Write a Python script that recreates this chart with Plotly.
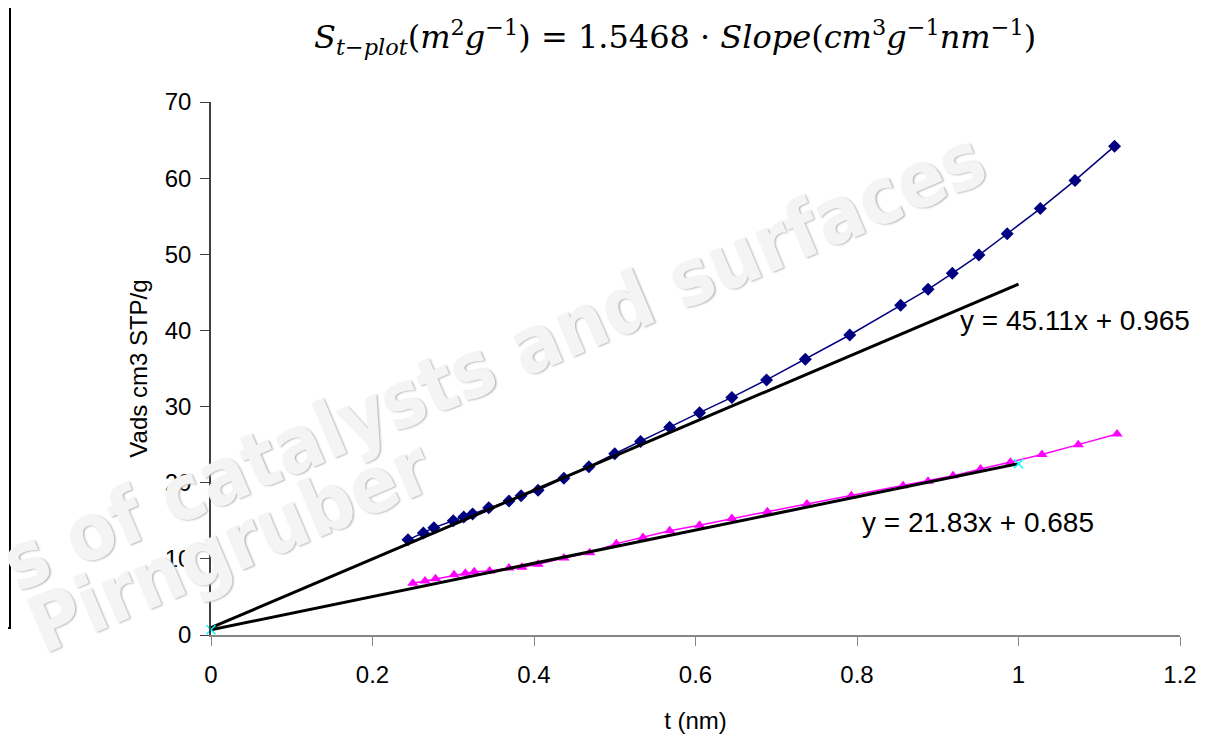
import plotly.graph_objects as go

# ---- data ----
t_blue = [0.244, 0.263, 0.276, 0.300, 0.313, 0.324, 0.344, 0.369, 0.384, 0.405,
          0.437, 0.468, 0.500, 0.532, 0.568, 0.605, 0.645, 0.688, 0.736, 0.791,
          0.854, 0.888, 0.918, 0.951, 0.986, 1.027, 1.070, 1.119]
v_blue = [12.5, 13.4, 14.1, 15.0, 15.5, 15.9, 16.7, 17.6, 18.3, 19.0,
          20.6, 22.1, 23.8, 25.4, 27.3, 29.2, 31.2, 33.5, 36.2, 39.4,
          43.3, 45.4, 47.5, 49.9, 52.7, 56.0, 59.7, 64.2]

t_pink = [0.250, 0.265, 0.278, 0.301, 0.315, 0.326, 0.345, 0.369, 0.385, 0.405,
          0.437, 0.469, 0.502, 0.535, 0.568, 0.605, 0.645, 0.689, 0.738, 0.793,
          0.857, 0.888, 0.919, 0.953, 0.990, 1.029, 1.074, 1.122]
v_pink = [6.8, 7.1, 7.4, 7.9, 8.1, 8.3, 8.4, 8.8, 8.9, 9.3,
          10.1, 10.8, 12.0, 12.8, 13.7, 14.4, 15.3, 16.2, 17.2, 18.3,
          19.6, 20.2, 20.9, 21.8, 22.7, 23.7, 25.0, 26.4]

t_cyan = [0.0, 1.0]
v_cyan = [0.7, 22.5]

trend_t = [0.0, 1.0]
slope1, intercept1 = 45.11, 0.965
slope2, intercept2 = 21.83, 0.685

x_ticks = [0, 0.2, 0.4, 0.6, 0.8, 1.0, 1.2]
x_ticklabels = ["0", "0.2", "0.4", "0.6", "0.8", "1", "1.2"]
y_ticks = [0, 10, 20, 30, 40, 50, 60, 70]

eq1_text = "y = 45.11x + 0.965"
eq2_text = "y = 21.83x + 0.685"
title_html = ("<i>S</i><sub><i>t−plot</i></sub>(<i>m</i><sup>2</sup><i>g</i><sup>−1</sup>)"
              " = 1.5468 · <i>Slope</i>(<i>cm</i><sup>3</sup><i>g</i><sup>−1</sup>"
              "<i>nm</i><sup>−1</sup>)")
wm_line1 = "s of catalysts and surfaces"
wm_line2 = "Pirngruber"

# page is offset by the 8px body margin
OFF = 8
W, H = 1213 - OFF, 737 - OFF
L, R, T, B = 211 - OFF, 33, 102 - OFF, 102
PW, PH = W - L - R, H - T - B


def px(xp):  # page pixel -> paper
    return (xp - OFF - L) / PW


def py(yp):
    return (H - B - (yp - OFF)) / PH


fig = go.Figure()

wm_font = dict(family="DejaVu Sans Condensed, Liberation Sans Narrow, DejaVu Sans, sans-serif",
               size=78, color="#f4f4f4", weight="bold",
               shadow="1px 1px 2px #b4b4b4")

fig.add_trace(go.Scatter(x=t_blue, y=v_blue, mode="lines+markers",
                         line=dict(color="#000080", width=1.5),
                         marker=dict(symbol="diamond", size=10, color="#000080"),
                         showlegend=False, hoverinfo="skip"))
fig.add_trace(go.Scatter(x=t_pink, y=v_pink, mode="lines+markers",
                         line=dict(color="#ff00ff", width=1.5),
                         marker=dict(symbol="triangle-up", size=10, color="#ff00ff"),
                         showlegend=False, hoverinfo="skip"))
fig.add_trace(go.Scatter(x=trend_t, y=[intercept1 + slope1 * t for t in trend_t],
                         mode="lines", line=dict(color="black", width=3),
                         showlegend=False, hoverinfo="skip"))
fig.add_trace(go.Scatter(x=trend_t, y=[intercept2 + slope2 * t for t in trend_t],
                         mode="lines", line=dict(color="black", width=3),
                         showlegend=False, hoverinfo="skip"))
fig.add_trace(go.Scatter(x=t_cyan, y=v_cyan, mode="markers",
                         marker=dict(symbol="x-thin", size=9, color="#00ffff",
                                     line=dict(color="#00ffff", width=1.5)),
                         showlegend=False, hoverinfo="skip", cliponaxis=False))

sans = "Liberation Sans, Arial, sans-serif"
annotations = [
    dict(text=wm_line1, xref="paper", yref="paper", x=px(494), y=py(361),
         showarrow=False, textangle=-23, font=wm_font, xanchor="center", yanchor="middle"),
    dict(text=wm_line2, xref="paper", yref="paper", x=px(230), y=py(546),
         showarrow=False, textangle=-23, font=wm_font, xanchor="center", yanchor="middle"),
    dict(text=eq1_text, xref="paper", yref="paper", x=px(1192), y=py(320), showarrow=False,
         xanchor="right", yanchor="middle", font=dict(family=sans, size=28, color="black")),
    dict(text=eq2_text, xref="paper", yref="paper", x=px(1096), y=py(522), showarrow=False,
         xanchor="right", yanchor="middle", font=dict(family=sans, size=28, color="black")),
    dict(text=title_html, xref="paper", yref="paper", x=px(675), y=py(37),
         showarrow=False, xanchor="center", yanchor="middle",
         font=dict(family="DejaVu Serif, Liberation Serif, serif", size=32, color="black")),
]

shapes = [
    dict(type="rect", xref="paper", yref="paper", x0=px(-30), x1=px(10),
         y0=py(628), y1=py(4), line=dict(color="black", width=2), fillcolor="rgba(0,0,0,0)"),
]

fig.update_layout(
    width=W, height=H,
    margin=dict(l=L, r=R, t=T, b=B, autoexpand=False),
    paper_bgcolor="white", plot_bgcolor="white",
    font=dict(family=sans, size=24, color="black"),
    annotations=annotations, shapes=shapes, showlegend=False,
)
fig.update_xaxes(range=[0, 1.2], tickvals=x_ticks, ticktext=x_ticklabels,
                 showgrid=False, zeroline=False, showline=True, linecolor="#868686",
                 linewidth=1.5, ticks="outside", ticklen=9, tickcolor="#868686",
                 tickfont=dict(size=24), ticklabelstandoff=8, automargin=False,
                 title=dict(text="t (nm)", font=dict(size=24), standoff=26))
fig.update_yaxes(range=[0, 70], tickvals=y_ticks,
                 showgrid=False, zeroline=False, showline=True, linecolor="#404040",
                 linewidth=1.5, ticks="outside", ticklen=9, tickcolor="#404040",
                 tickfont=dict(size=24), ticklabelstandoff=4, automargin=False,
                 title=dict(text="Vads cm3 STP/g", font=dict(size=24), standoff=10))

fig.write_html("out.html")
